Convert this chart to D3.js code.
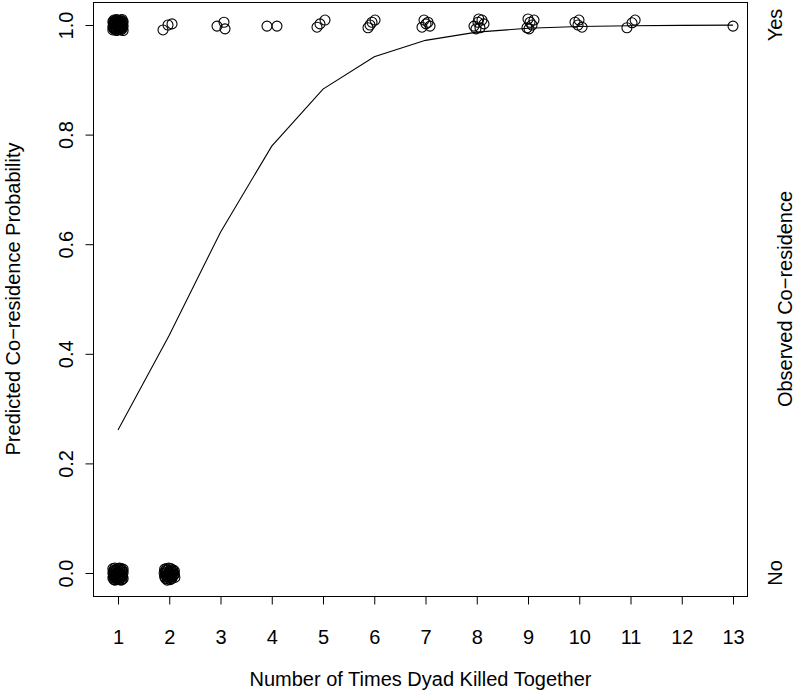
<!DOCTYPE html>
<html><head><meta charset="utf-8">
<script src="https://cdn.jsdelivr.net/npm/d3@7"></script>
<style>body{margin:0;background:#fff}svg{display:block}text{font-family:"Liberation Sans",Arial,Helvetica,sans-serif;fill:#000}</style>
</head><body>
<script>
// ---- Data ----
const xTicks = [1,2,3,4,5,6,7,8,9,10,11,12,13];
const yTicks = [0,0.2,0.4,0.6,0.8,1.0];
const curveX = [1,2,3,4,5,6,7,8,9,10,11,12,13];
const curveY = [0.261,0.434,0.622,0.779,0.883,0.942,0.972,0.987,0.994,0.9972,0.9987,0.9994,0.9997];
// Observed co-residence (jittered), scattered points
const obsX = [
 1.878,1.976,2.054,
 2.932,3.068,3.088,
 3.907,4.102,
 4.883,4.941,5.039,
 5.878,5.956,6.015,5.917,
 6.932,7.010,7.049,7.088,6.971,
 7.946,8.024,8.102,8.063,8.141,7.985,8.04,
 8.98,9.039,9.117,9.078,9.00,9.02,
 9.917,9.995,10.054,9.976,
 10.93,11.03,11.09,
 13.0
];
const obsY = [
 0.991,1.000,1.002,
 0.998,1.005,0.993,
 0.998,0.998,
 0.996,1.002,1.009,
 0.995,1.005,1.009,1.000,
 0.996,1.002,1.005,0.998,1.009,
 0.998,1.005,1.009,0.995,1.002,0.993,1.011,
 0.995,1.005,1.009,1.000,1.011,0.993,
 1.005,1.009,0.996,1.000,
 0.995,1.004,1.009,
 0.998
];
// Dense clusters (many overlapping observations)
const blobTop1X = [0.90,0.94,0.97,1.00,1.03,1.06,1.10, 0.91,0.93,0.96,1.01,1.04,1.07,1.09, 0.90,0.95,0.98,0.99,1.02,1.05,1.10, 0.92,0.94,0.97,1.00,1.03,1.06,1.08, 0.91,0.93,0.96,1.01,1.04,1.07,1.09, 0.90,0.95,0.98,1.00,1.02,1.05,1.10, 0.92,0.94,0.97,0.99,1.03,1.06,1.08];
const blobTop1Y = [0.991,0.992,0.990,0.991,0.992,0.991,0.990, 0.994,0.995,0.994,0.993,0.994,0.995,0.994, 0.997,0.996,0.998,0.997,0.996,0.997,0.998, 1.000,1.001,0.999,1.000,1.001,1.000,0.999, 1.003,1.002,1.004,1.003,1.002,1.003,1.004, 1.006,1.007,1.006,1.005,1.006,1.007,1.006, 1.009,1.008,1.010,1.009,1.008,1.009,1.010];
const blobBot1X = [0.90,0.94,0.97,1.00,1.03,1.06,1.10, 0.91,0.93,0.96,1.01,1.04,1.07,1.09, 0.90,0.95,0.98,0.99,1.02,1.05,1.10, 0.92,0.94,0.97,1.00,1.03,1.06,1.08, 0.91,0.93,0.96,1.01,1.04,1.07,1.09, 0.90,0.95,0.98,1.00,1.02,1.05,1.10, 0.92,0.94,0.97,0.99,1.03,1.06,1.08];
const blobBot1Y = [0.008,0.009,0.007,0.008,0.009,0.008,0.007, 0.004,0.005,0.004,0.003,0.004,0.005,0.004, 0.000,-0.001,0.001,0.000,-0.001,0.000,0.001, -0.003,-0.002,-0.004,-0.003,-0.002,-0.003,-0.004, -0.006,-0.007,-0.006,-0.005,-0.006,-0.007,-0.006, -0.009,-0.008,-0.010,-0.009,-0.008,-0.009,-0.010, -0.012,-0.013,-0.012,-0.011,-0.012,-0.013,-0.012];
const blobBot2X = [1.91,1.95,1.99,2.03,2.07,2.10, 1.92,1.96,2.00,2.04,2.08, 1.90,1.94,1.98,2.02,2.06,2.10, 1.92,1.96,2.01,2.05,2.09, 1.91,1.95,1.99,2.03,2.07, 1.93,1.97,2.01,2.05,2.11, 1.96,2.02];
const blobBot2Y = [0.007,0.008,0.009,0.008,0.006,0.004, 0.004,0.005,0.003,0.005,0.002, 0.000,0.001,-0.001,0.000,0.001,-0.002, -0.003,-0.004,-0.003,-0.005,-0.004, -0.007,-0.006,-0.008,-0.007,-0.006, -0.010,-0.011,-0.009,-0.010,-0.008, -0.013,-0.012];
const rightLabels = ["No","Yes"];
const rightVals = [0,1];
const xTitle = "Number of Times Dyad Killed Together";
const yTitle = "Predicted Co\u2212residence Probability";
const y2Title = "Observed Co\u2212residence";

// ---- Chart ----
const W=796,H=692;
const svg=d3.select("body").append("svg").attr("width",W).attr("height",H);
const x=d3.scaleLinear().domain([1,13]).range([118,733]);
const y=d3.scaleLinear().domain([0,1]).range([573,25]);
const box={l:93.5,r:747.5,t:2.5,b:596.5};
const FS=20;

svg.append("rect").attr("x",box.l).attr("y",box.t).attr("width",box.r-box.l).attr("height",box.b-box.t)
  .attr("fill","none").attr("stroke","#000").attr("stroke-width",1);

// x axis
const xa=svg.append("g").attr("transform",`translate(0,${box.b})`)
  .call(d3.axisBottom(x).tickValues(xTicks).tickFormat(d3.format("d")).tickSize(8));
xa.select(".domain").remove();
xa.selectAll("line").attr("stroke","#000");
xa.selectAll(".tick text").attr("y",null).attr("dy",null)
  .attr("dominant-baseline","central").attr("text-anchor","middle")
  .attr("transform",`translate(0,${637-box.b})`)
  .style("font-size",FS+"px").style("font-family","'Liberation Sans',Arial,sans-serif");

// y axis
const ya=svg.append("g").attr("transform",`translate(${box.l},0)`)
  .call(d3.axisLeft(y).tickValues(yTicks).tickFormat(d3.format(".1f")).tickSize(8));
ya.select(".domain").attr("d",`M0,${y(0)}V${y(1)}`).attr("stroke","#000");
ya.selectAll("line").attr("stroke","#000");
ya.selectAll(".tick text").attr("x",0).attr("dy",null).attr("text-anchor","middle").attr("dominant-baseline","central")
  .attr("transform",`translate(-28,0) rotate(-90)`)
  .style("font-size",FS+"px").style("font-family","'Liberation Sans',Arial,sans-serif");

// right labels
svg.selectAll("text.rl").data(rightVals).enter().append("text").attr("class","rl")
  .attr("transform",d=>`translate(775,${y(d)}) rotate(-90)`)
  .attr("text-anchor","middle").attr("dominant-baseline","central")
  .style("font-size",FS+"px").text((d,i)=>rightLabels[i]);

// titles
svg.append("text").attr("transform",`translate(${(box.l+box.r)/2},679)`)
  .attr("text-anchor","middle").attr("dominant-baseline","central")
  .style("font-size",FS+"px").text(xTitle);
svg.append("text").attr("transform",`translate(13,${(y(0)+y(1))/2}) rotate(-90)`)
  .attr("text-anchor","middle").attr("dominant-baseline","central")
  .style("font-size",FS+"px").text(yTitle);
svg.append("text").attr("transform",`translate(785,${(y(0)+y(1))/2}) rotate(-90)`)
  .attr("text-anchor","middle").attr("dominant-baseline","central")
  .style("font-size",FS+"px").text(y2Title);

// fitted curve
const line=d3.line().x((d,i)=>x(curveX[i])).y(d=>y(d));
svg.append("path").datum(curveY).attr("d",line).attr("fill","none").attr("stroke","#000").attr("stroke-width",1.1);

// observed points
const pts=[];
obsX.forEach((v,i)=>pts.push([v,obsY[i]]));
blobTop1X.forEach((v,i)=>pts.push([v,blobTop1Y[i]]));
blobBot1X.forEach((v,i)=>pts.push([v,blobBot1Y[i]]));
blobBot2X.forEach((v,i)=>pts.push([v,blobBot2Y[i]]));
svg.selectAll("circle.p").data(pts).enter().append("circle").attr("class","p")
  .attr("cx",d=>x(d[0])).attr("cy",d=>y(d[1])).attr("r",5)
  .attr("fill","none").attr("stroke","#000").attr("stroke-width",1.1);
</script>
</body></html>
